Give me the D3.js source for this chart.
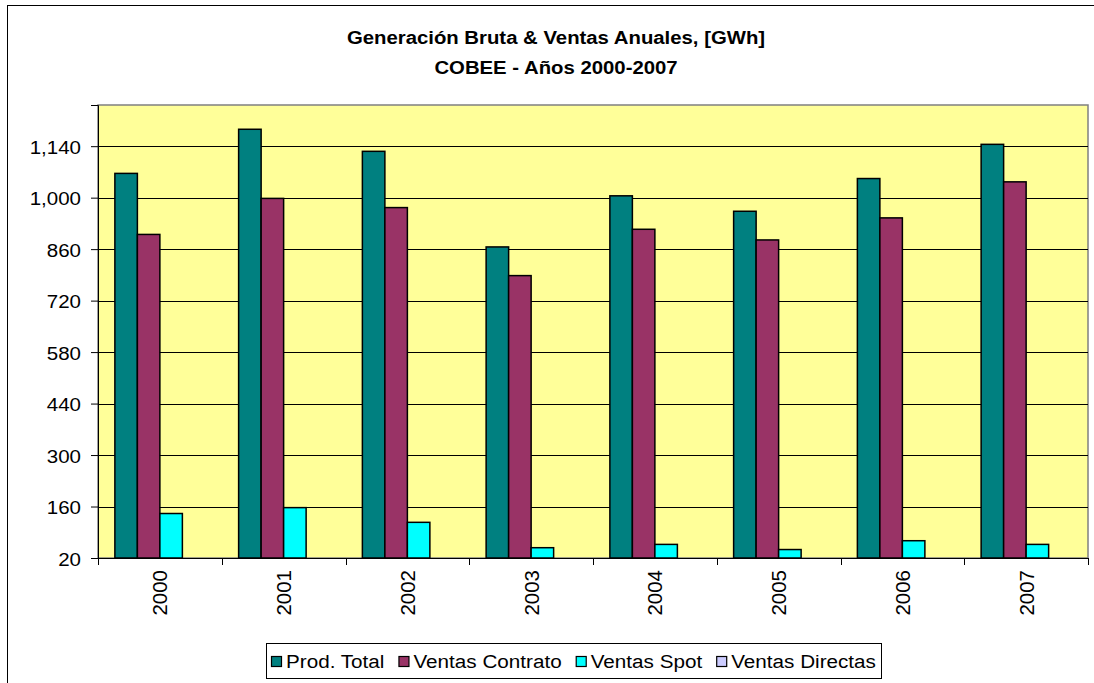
<!DOCTYPE html>
<html>
<head>
<meta charset="utf-8">
<script src="https://cdn.jsdelivr.net/npm/d3@7"></script>
<style>
  body { margin: 0; background: #fff; }
  svg { display: block; font-family: "Liberation Sans", Arial, sans-serif; }
</style>
</head>
<body>
<div id="chart"></div>
<script>
// data
const years = ['2000', '2001', '2002', '2003', '2004', '2005', '2006', '2007'];
const seriesNames = ['Prod. Total', 'Ventas Contrato', 'Ventas Spot', 'Ventas Directas'];
const prodTotal = [1066, 1186, 1126, 866, 1005, 963, 1052, 1145];
const ventasContrato = [900, 998, 973, 788, 914, 885, 945, 1043];
const ventasSpot = [141, 157, 117, 48, 57, 43, 67, 57];
const ventasDirectas = [0, 0, 0, 0, 0, 0, 0, 0];
const yTicks = [20, 160, 300, 440, 580, 720, 860, 1000, 1140];
const colors = ['#008080', '#993366', '#00FFFF', '#CCCCFF'];

const width = 1094, height = 683;
const plot = { left: 98, top: 105, right: 1088, bottom: 558 };

const svg = d3.select('#chart').append('svg')
    .attr('width', width)
    .attr('height', height);

// outer chart frame (runs off the right and bottom edge)
svg.append('rect')
    .attr('x', 7.5).attr('y', 5.5)
    .attr('width', width + 10).attr('height', height + 10)
    .attr('fill', '#fff').attr('stroke', '#000').attr('stroke-width', 1);

// title
const title = svg.append('text')
    .attr('text-anchor', 'middle')
    .attr('font-weight', 'bold')
    .attr('font-size', 18)
    .attr('transform', 'translate(556,0) scale(1.13,1)');
title.append('tspan').attr('x', 0).attr('y', 44).text('Generación Bruta & Ventas Anuales, [GWh]');
title.append('tspan').attr('x', 0).attr('y', 74).text('COBEE - Años 2000-2007');

const x0 = d3.scaleBand().domain(years).range([plot.left, plot.right]);
// Excel gap width 150% -> 4 bars + 1.5 bar widths per category
const x1 = d3.scaleBand().domain(seriesNames)
    .range([0, x0.bandwidth()])
    .paddingInner(0).paddingOuter(0.75);
const y = d3.scaleLinear().domain([20, 1252]).range([plot.bottom, plot.top]);

// plot background
svg.append('rect')
    .attr('x', plot.left).attr('y', plot.top)
    .attr('width', plot.right - plot.left).attr('height', plot.bottom - plot.top)
    .attr('fill', '#FFFF99')
    .attr('stroke', '#808080').attr('stroke-width', 1.5);

// gridlines
svg.append('g').selectAll('line')
    .data(yTicks.slice(1))
    .join('line')
    .attr('x1', plot.left).attr('x2', plot.right)
    .attr('y1', d => Math.round(y(d)) + 0.5).attr('y2', d => Math.round(y(d)) + 0.5)
    .attr('stroke', '#000').attr('stroke-width', 1);

// bars
const allSeries = [prodTotal, ventasContrato, ventasSpot, ventasDirectas];
const barData = [];
years.forEach((yr, i) => {
    seriesNames.forEach((s, j) => {
        barData.push({ year: yr, series: s, value: allSeries[j][i], color: colors[j] });
    });
});

svg.append('g').selectAll('rect')
    .data(barData.filter(d => d.value > 20))
    .join('rect')
    .attr('x', d => x0(d.year) + x1(d.series))
    .attr('y', d => y(d.value))
    .attr('width', x1.bandwidth())
    .attr('height', d => plot.bottom - y(d.value))
    .attr('fill', d => d.color)
    .attr('stroke', '#000')
    .attr('stroke-width', 1.5);

// y axis
const yAxis = svg.append('g')
    .attr('transform', `translate(${plot.left},0)`)
    .call(d3.axisLeft(y).tickValues(yTicks).tickSize(7).tickPadding(10).tickFormat(d3.format(',')));
yAxis.select('.domain').attr('stroke', '#000');
yAxis.selectAll('.tick text')
    .attr('font-size', 19).attr('fill', '#000')
    .attr('font-family', 'Liberation Sans, Arial, sans-serif')
    .attr('x', null).attr('dy', null)
    .attr('transform', 'translate(-17,7) scale(1.08,1)');

// x axis with ticks between categories
const xAxisG = svg.append('g');
xAxisG.append('line')
    .attr('x1', plot.left).attr('x2', plot.right)
    .attr('y1', plot.bottom + 0.5).attr('y2', plot.bottom + 0.5)
    .attr('stroke', '#000');
xAxisG.selectAll('.xtick')
    .data(years.concat(['end']))
    .join('line')
    .attr('class', 'xtick')
    .attr('x1', (d, i) => Math.round(plot.left + i * x0.step()) + 0.5)
    .attr('x2', (d, i) => Math.round(plot.left + i * x0.step()) + 0.5)
    .attr('y1', plot.bottom).attr('y2', plot.bottom + 7)
    .attr('stroke', '#000');
xAxisG.selectAll('.xlabel')
    .data(years)
    .join('text')
    .attr('class', 'xlabel')
    .attr('transform', d => `translate(${x0(d) + x0.bandwidth() / 2 + 7.5},570) rotate(-90)`)
    .attr('text-anchor', 'end')
    .attr('font-size', 20.5)
    .text(d => d);

// legend
const legend = svg.append('g');
const boxLeft = 266, boxRight = 881;
legend.append('rect')
    .attr('x', boxLeft + 0.5).attr('y', 643.5)
    .attr('width', boxRight - boxLeft).attr('height', 35)
    .attr('fill', '#fff').attr('stroke', '#000');
const labels = seriesNames.map(s => legend.append('text')
    .attr('y', 668).attr('font-size', 19).text(s));
const textW = labels.map(t => t.node().getComputedTextLength());
const sq = 10, sqGap = 5, itemGap = 14, pad = 5;
const sx = (boxRight - boxLeft - 2 * pad - 4 * (sq + sqGap) - 3 * itemGap) / d3.sum(textW);
let lx = boxLeft + pad;
seriesNames.forEach((s, j) => {
    legend.append('rect')
        .attr('x', lx + 0.5).attr('y', 656.5)
        .attr('width', sq).attr('height', sq)
        .attr('fill', colors[j]).attr('stroke', '#000').attr('stroke-width', 1.2);
    labels[j].attr('transform', `translate(${lx + sq + sqGap},0) scale(${sx},1)`);
    lx += sq + sqGap + textW[j] * sx + itemGap;
});
</script>
</body>
</html>
